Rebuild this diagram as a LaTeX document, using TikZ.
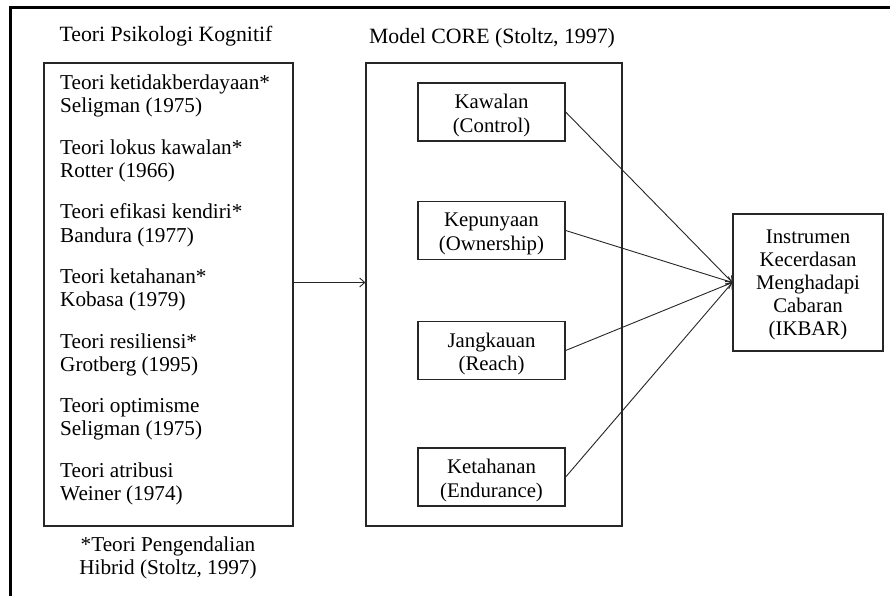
\documentclass[tikz,border=0pt]{standalone}
\usepackage{fontspec}
\setmainfont{Liberation Serif}
\usetikzlibrary{arrows.meta}
\begin{document}
\begin{tikzpicture}[x=1pt,y=-1pt,
  box/.style={draw=black!85, line width=1.3pt, inner sep=0pt},
  txt/.style={inner sep=0pt, font=\fontsize{20.8}{23.2}\selectfont},
  ltxt/.style={txt, align=left, anchor=west, font=\fontsize{21.2}{23.3}\selectfont},
  ctxt/.style={txt, align=center},
  ttl/.style={txt, font=\fontsize{21.8}{23}\selectfont},
  cbox/.style={box, minimum width=147pt, minimum height=58pt},
  arr/.style={draw=black!85, line width=0.9pt, -{Straight Barb[length=5pt,width=9pt]}},
  frame/.style={line width=3pt, black}
]
\useasboundingbox (0,0) rectangle (890,596);
\draw[frame] (10,597) -- (10,8) -- (891,8);

% titles
\node[ttl] (t1) at (166,36) {Teori Psikologi Kognitif};
\node[ttl] (t2) at (492,38) {Model CORE (Stoltz, 1997)};

% left box
\node[box, minimum width=249pt, minimum height=463pt] (L) at (168.5,294.5) {};
\node[ltxt] (l1) at (60,96) {Teori ketidakberdayaan*\\Seligman (1975)};
\node[ltxt] (l2) at (60,160.7) {Teori lokus kawalan*\\Rotter (1966)};
\node[ltxt] (l3) at (60,225.4) {Teori efikasi kendiri*\\Bandura (1977)};
\node[ltxt] (l4) at (60,290) {Teori ketahanan*\\Kobasa (1979)};
\node[ltxt] (l5) at (60,354.8) {Teori resiliensi*\\Grotberg (1995)};
\node[ltxt] (l6) at (60,419.5) {Teori optimisme\\Seligman (1975)};
\node[ltxt] (l7) at (60,484.2) {Teori atribusi\\Weiner (1974)};
\node[ctxt, font=\fontsize{21.2}{23}\selectfont] (fn) at (168,558) {*Teori Pengendalian\\Hibrid (Stoltz, 1997)};

% middle box
\node[box, minimum width=256pt, minimum height=463pt] (M) at (494,294.5) {};
\node[cbox] (c1) at (491.5,112) {};
\node[cbox] (c2) at (491.5,230.5) {};
\node[cbox] (c3) at (491.5,350.5) {};
\node[cbox] (c4) at (491.5,477) {};
\node[ctxt] (c1t) at ([yshift=-3.5]c1.center) {Kawalan\\(Control)};
\node[ctxt] (c2t) at ([yshift=-3.5]c2.center) {Kepunyaan\\(Ownership)};
\node[ctxt] (c3t) at ([yshift=-3.5]c3.center) {Jangkauan\\(Reach)};
\node[ctxt] (c4t) at ([yshift=-3.5]c4.center) {Ketahanan\\(Endurance)};

% right box
\node[box, minimum width=150pt, minimum height=137pt] (R) at (808,282.5) {};
\node[ctxt] (Rt) at ([yshift=-2.5]R.center) {Instrumen\\Kecerdasan\\Menghadapi\\Cabaran\\(IKBAR)};

% connectors
\draw[arr] (L.east |- R.west) -- (M.west |- R.west);
\draw[arr] (c1.east) -- (R.west);
\draw[arr] (c2.east) -- (R.west);
\draw[arr] (c3.east) -- (R.west);
\draw[arr] (c4.east) -- (R.west);
\end{tikzpicture}
\end{document}
